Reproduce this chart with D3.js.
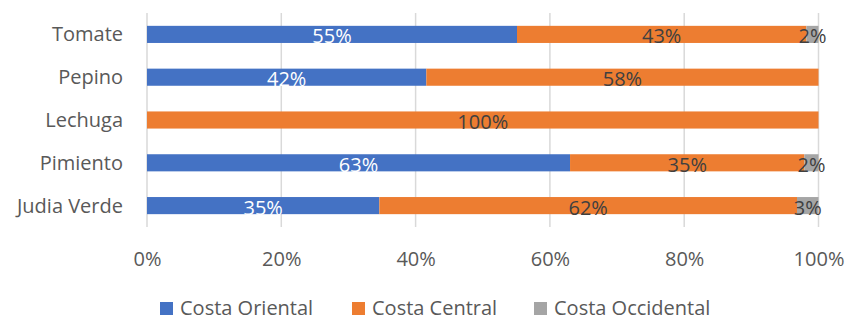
<!DOCTYPE html>
<html><head><meta charset="utf-8">
<script src="https://cdn.jsdelivr.net/npm/d3@7"></script>
<style>body{margin:0;background:#fff;} svg{display:block;font-family:"Open Sans", sans-serif;}</style>
</head><body><svg id="c" width="846" height="320"></svg>
<script>
const categories = ["Tomate", "Pepino", "Lechuga", "Pimiento", "Judia Verde"];
const seriesNames = ["Costa Oriental", "Costa Central", "Costa Occidental"];
const oriental   = [0.551, 0.416, 0.000, 0.630, 0.346];
const central    = [0.431, 0.584, 1.000, 0.349, 0.622];
const occidental = [0.018, 0.000, 0.000, 0.021, 0.032];
const colors = ["#4472C4", "#ED7D31", "#A5A5A5"];
const labelColors = ["#FFFFFF", "#404040", "#404040"];
const ticks = [0, 0.2, 0.4, 0.6, 0.8, 1.0];
const FS = 20;
const FF = "'Open Sans', sans-serif";

const svg = d3.select("#c");
const x = d3.scaleLinear().domain([0, 1]).range([147, 818.5]);
const y = d3.scaleBand().domain(categories).range([13, 227]).paddingInner(0.6).paddingOuter(0.3);

const table = categories.map((c, i) => ({cat: c, "Costa Oriental": oriental[i], "Costa Central": central[i], "Costa Occidental": occidental[i]}));
const stacked = d3.stack().keys(seriesNames)(table);

svg.append("g").selectAll("line").data(ticks).join("line")
  .attr("x1", d => x(d)).attr("x2", d => x(d))
  .attr("y1", 13).attr("y2", 227)
  .attr("stroke", "#D9D9D9").attr("stroke-width", 1.5);

stacked.forEach((s, si) => {
  svg.append("g").selectAll("rect").data(s.filter(d => d[1] - d[0] > 0)).join("rect")
    .attr("x", d => x(d[0])).attr("width", d => x(d[1]) - x(d[0]))
    .attr("y", d => y(d.data.cat)).attr("height", y.bandwidth())
    .attr("fill", colors[si]);
});
stacked.forEach((s, si) => {
  svg.append("g").selectAll("text").data(s.filter(d => d[1] - d[0] > 0)).join("text")
    .attr("x", d => (x(d[0]) + x(d[1])) / 2)
    .attr("y", d => y(d.data.cat) + y.bandwidth() / 2 + 1.5)
    .attr("text-anchor", "middle").attr("dominant-baseline", "central")
    .attr("font-size", FS).attr("fill", labelColors[si])
    .text(d => Math.round((d[1] - d[0]) * 100) + "%");
});

const ya = svg.append("g").attr("transform", "translate(147,0)")
  .call(d3.axisLeft(y).tickSize(0).tickPadding(24));
ya.select(".domain").remove();
ya.selectAll("text").attr("font-size", FS).attr("fill", "#595959").attr("font-family", FF).attr("dy", "0.35em");

const xa = svg.append("g").attr("transform", "translate(0,227)")
  .call(d3.axisBottom(x).tickValues(ticks).tickFormat(d3.format(".0%")).tickSize(0).tickPadding(20));
xa.select(".domain").remove();
xa.selectAll("text").attr("font-size", FS).attr("fill", "#595959").attr("font-family", FF)
  .attr("y", 39).attr("dy", 0);

const legendX = [160, 352, 534];
const lg = svg.append("g").selectAll("g").data(seriesNames).join("g")
  .attr("transform", (d, i) => `translate(${legendX[i]},302)`);
lg.append("rect").attr("width", 13).attr("height", 13).attr("fill", (d, i) => colors[i]);
lg.append("text").attr("x", 20).attr("y", 13)
  .attr("font-size", FS).attr("fill", "#595959").text(d => d);
</script></body></html>
